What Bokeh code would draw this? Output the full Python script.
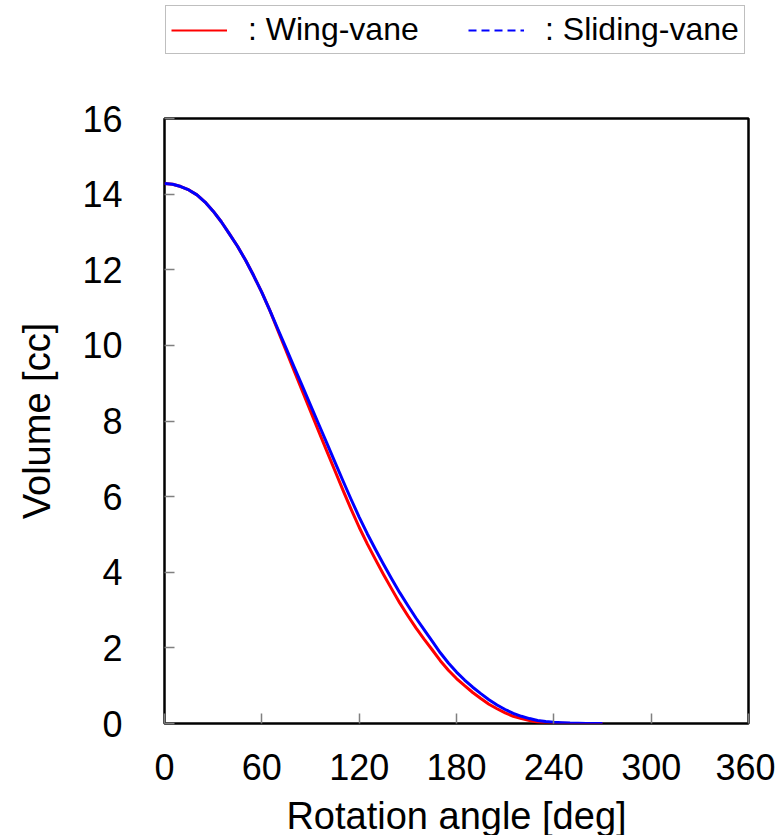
from bokeh.plotting import figure
from bokeh.models import Legend, LegendItem, FixedTicker, Range1d
from bokeh.layouts import column
from bokeh.embed import file_html
from bokeh.resources import INLINE

# Rotation angle [deg]
angle = [0, 5, 10, 15, 20, 25, 30, 35, 40, 45, 50, 55, 60, 65, 70, 75, 80, 85,
         90, 95, 100, 105, 110, 115, 120, 125, 130, 135, 140, 145, 150, 155,
         160, 165, 170, 175, 180, 185, 190, 195, 200, 205, 210, 215, 220, 225,
         230, 235, 240, 245, 250, 255, 260, 265, 270]
# Volume [cc]
wing_vane = [14.28, 14.26, 14.2, 14.11, 13.98, 13.79, 13.55, 13.27, 12.95, 12.62,
             12.25, 11.84, 11.4, 10.92, 10.38, 9.85, 9.32, 8.79, 8.26, 7.73,
             7.21, 6.69, 6.17, 5.67, 5.19, 4.75, 4.34, 3.94, 3.56, 3.19,
             2.85, 2.53, 2.23, 1.95, 1.66, 1.41, 1.19, 1.0, 0.82, 0.66,
             0.51, 0.39, 0.28, 0.19, 0.13, 0.08, 0.04, 0.02, 0.01, 0.005,
             0.0, 0.0, 0.0, 0.0, 0.0]
sliding_vane = [14.28, 14.26, 14.2, 14.11, 13.98, 13.79, 13.55, 13.27, 12.95, 12.62,
                12.25, 11.84, 11.4, 10.92, 10.42, 9.92, 9.42, 8.92, 8.42, 7.92,
                7.42, 6.92, 6.42, 5.93, 5.46, 5.02, 4.61, 4.21, 3.83, 3.46,
                3.12, 2.79, 2.48, 2.18, 1.87, 1.6, 1.36, 1.15, 0.96, 0.79,
                0.63, 0.49, 0.37, 0.27, 0.19, 0.13, 0.08, 0.05, 0.03, 0.02,
                0.01, 0.005, 0.0, 0.0, 0.0]

x_ticks = [0, 60, 120, 180, 240, 300, 360]
y_ticks = [0, 2, 4, 6, 8, 10, 12, 14, 16]

FONT = "Liberation Sans"

# ---- legend strip (its own small figure above the plot) ----
lf = figure(frame_width=584, frame_height=52,
            min_border_left=164, min_border_right=27,
            min_border_top=4, min_border_bottom=0,
            x_range=Range1d(0, 360), y_range=Range1d(1000, 1001),
            output_backend="svg", toolbar_location=None)
lf.axis.visible = False
lf.grid.visible = False
lf.outline_line_color = None
lf.background_fill_color = "white"
lf.border_fill_color = "white"

# sample renderers for the legend; their data lie outside the strip's range
red_leg = lf.line(angle, wing_vane, line_color="#ff0000", line_width=2)
blue_leg = lf.line(angle, sliding_vane, line_color="#0000ff", line_width=2,
                   line_dash="8 5")

legend = Legend(items=[LegendItem(label=": Wing-vane", renderers=[red_leg]),
                       LegendItem(label=": Sliding-vane", renderers=[blue_leg])],
                orientation="horizontal", location="top_left")
legend.label_text_font = FONT
legend.label_text_font_size = "32px"
legend.label_text_color = "black"
legend.glyph_width = 56
legend.glyph_height = 20
legend.label_standoff = 21
legend.label_width = 190
legend.spacing = 30
legend.padding = 5
legend.margin = 1
legend.border_line_color = "#808080"
legend.border_line_width = 1.5
legend.background_fill_color = "white"
legend.background_fill_alpha = 1.0
lf.add_layout(legend, "center")

# ---- main plot ----
p = figure(frame_width=584, frame_height=605,
           min_border_left=164, min_border_right=27,
           min_border_top=62, min_border_bottom=109,
           x_range=Range1d(0, 360), y_range=Range1d(0, 16),
           output_backend="svg", toolbar_location=None)

p.background_fill_color = "white"
p.border_fill_color = "white"
p.outline_line_color = "black"
p.outline_line_width = 2.5
p.grid.visible = False

p.line(angle, wing_vane, line_color="#ff0000", line_width=3, line_join="round")
p.line(angle, sliding_vane, line_color="#0000ff", line_width=3, line_join="round")

for ax in (p.xaxis[0], p.yaxis[0]):
    ax.axis_line_color = None
    ax.major_tick_in = 10
    ax.major_tick_out = 0
    ax.major_tick_line_color = "#808080"
    ax.major_tick_line_width = 1.5
    ax.minor_tick_line_color = None
    ax.major_label_text_font = FONT
    ax.major_label_text_font_size = "36px"
    ax.major_label_text_color = "black"
    ax.axis_label_text_font = FONT
    ax.axis_label_text_font_size = "38px"
    ax.axis_label_text_font_style = "normal"
    ax.axis_label_text_color = "black"

p.xaxis.ticker = FixedTicker(ticks=x_ticks)
p.yaxis.ticker = FixedTicker(ticks=y_ticks)
p.xaxis.axis_label = "Rotation angle [deg]"
p.yaxis.axis_label = "Volume [cc]"
p.xaxis.major_label_standoff = 30
p.xaxis.axis_label_standoff = 12
p.yaxis.major_label_standoff = 42
p.yaxis.axis_label_standoff = 21

layout = column(lf, p, spacing=0)
open("out.html", "w").write(file_html(layout, INLINE))
